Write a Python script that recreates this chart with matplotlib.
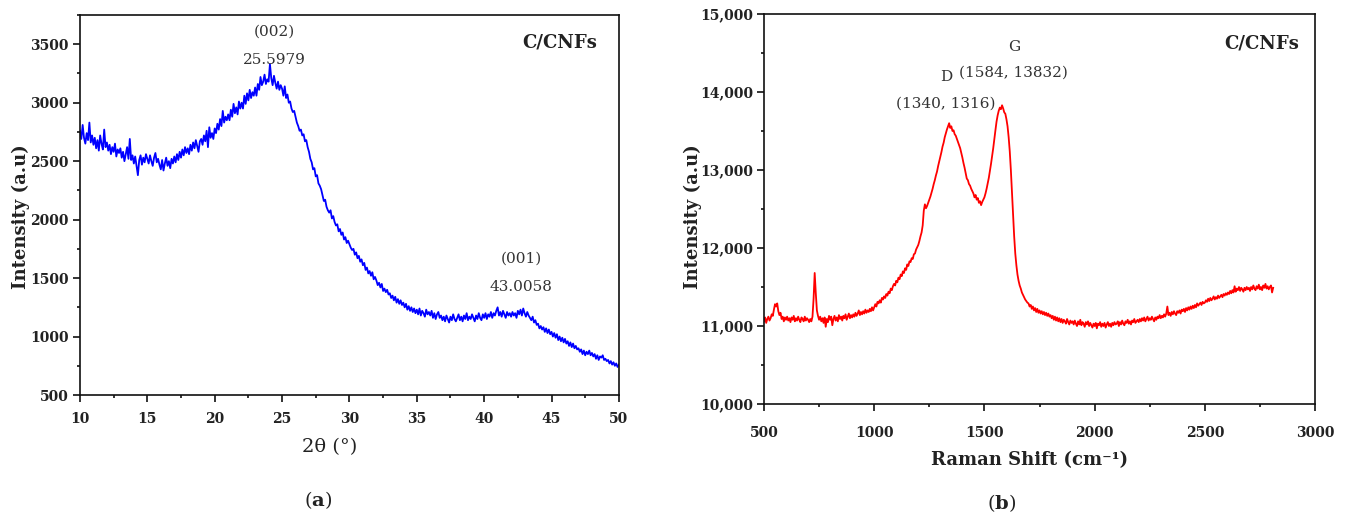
import numpy as np
import matplotlib
matplotlib.use('Agg')
import matplotlib.pyplot as plt
from matplotlib.ticker import MultipleLocator, FuncFormatter

plt.rcParams['font.family'] = 'DejaVu Serif'
plt.rcParams['mathtext.fontset'] = 'custom'
plt.rcParams['mathtext.rm'] = 'DejaVu Serif'
plt.rcParams['mathtext.bf'] = 'DejaVu Serif:bold'

# XRD pattern, 2theta = 10..50 deg in 0.1 deg steps (one row per degree)
xrd_intensity = [
    2760, 2690, 2810, 2700, 2650, 2740, 2680, 2830, 2660, 2720,
    2640, 2700, 2610, 2680, 2590, 2720, 2650, 2600, 2770, 2620,
    2660, 2590, 2640, 2560, 2620, 2580, 2650, 2540, 2600, 2570,
    2610, 2530, 2580, 2500, 2560, 2620, 2520, 2690, 2510, 2550,
    2480, 2540, 2460, 2380, 2510, 2550, 2470, 2530, 2490, 2560,
    2520, 2480, 2550, 2500, 2460, 2530, 2570, 2490, 2520, 2470,
    2430, 2510, 2420, 2480, 2530, 2460, 2500, 2440, 2520, 2480,
    2540, 2490, 2560, 2510, 2580, 2530, 2600, 2550, 2620, 2570,
    2610, 2560, 2640, 2590, 2660, 2610, 2680, 2630, 2580, 2670,
    2690, 2640, 2720, 2670, 2760, 2620, 2790, 2700, 2740, 2690,
    2780, 2740, 2820, 2770, 2860, 2800, 2930, 2830, 2880, 2850,
    2900, 2850, 2940, 2880, 2990, 2910, 2960, 2900, 3010, 2950,
    3000, 2950, 3060, 2990, 3080, 3020, 3110, 3040, 3090, 3060,
    3130, 3060, 3160, 3110, 3220, 3150, 3180, 3240, 3160, 3200,
    3180, 3330, 3210, 3150, 3230, 3170, 3120, 3180, 3110, 3150,
    3120, 3060, 3140, 3040, 3070, 3000, 3010, 2950, 2920, 2930,
    2880, 2830, 2800, 2760, 2770, 2720, 2730, 2670, 2680, 2620,
    2580, 2520, 2490, 2430, 2440, 2370, 2380, 2310, 2290, 2260,
    2210, 2160, 2170, 2110, 2080, 2060, 2080, 2010, 2030, 1980,
    1950, 1960, 1900, 1920, 1870, 1890, 1830, 1850, 1800, 1820,
    1790, 1760, 1740, 1750, 1700, 1720, 1670, 1690, 1640, 1660,
    1610, 1630, 1570, 1590, 1540, 1560, 1520, 1550, 1490, 1510,
    1480, 1440, 1460, 1420, 1450, 1390, 1410, 1380, 1400, 1360,
    1370, 1330, 1350, 1310, 1340, 1290, 1320, 1280, 1310, 1270,
    1290, 1250, 1280, 1230, 1260, 1220, 1250, 1210, 1240, 1200,
    1230, 1190, 1240, 1180, 1220, 1200, 1170, 1230, 1190, 1210,
    1180, 1220, 1160, 1200, 1150, 1190, 1210, 1160, 1180, 1140,
    1170, 1130, 1180, 1150, 1120, 1170, 1140, 1190, 1150, 1130,
    1160, 1190, 1140, 1170, 1130, 1180, 1150, 1200, 1140, 1170,
    1150, 1190, 1160, 1130, 1180, 1150, 1200, 1160, 1140, 1190,
    1160, 1200, 1150, 1190, 1170, 1210, 1160, 1200, 1180, 1220,
    1250, 1180, 1210, 1170, 1220, 1190, 1160, 1210, 1180, 1200,
    1170, 1210, 1180, 1200, 1160, 1220, 1190, 1230, 1180, 1240,
    1200, 1170, 1210, 1180, 1160, 1140, 1170, 1120, 1140, 1100,
    1110, 1070, 1090, 1060, 1080, 1040, 1070, 1030, 1060, 1020,
    1040, 1000, 1030, 990, 1020, 970, 1000, 960, 990, 950,
    980, 940, 960, 920, 950, 910, 940, 900, 920, 890,
    900, 870, 890, 850, 880, 840, 870, 850, 880, 840,
    860, 830, 850, 810, 840, 800, 830, 820, 840, 800,
    810, 790, 800, 770, 790, 760, 780, 750, 770, 740,
    760,
]
two_theta = np.linspace(10, 50, len(xrd_intensity))

# Raman spectrum, 500..2810 cm-1 in 5 cm-1 steps (one row per 100 cm-1)
raman_intensity = [
    11060, 11110, 11040, 11090, 11120, 11070, 11100, 11150, 11130, 11210, 11280, 11250, 11290, 11190, 11140, 11170, 11090, 11120, 11060, 11110,
    11080, 11120, 11070, 11100, 11050, 11110, 11080, 11130, 11060, 11100, 11070, 11120, 11080, 11050, 11110, 11090, 11060, 11120, 11070, 11100,
    11080, 11050, 11090, 11060, 11120, 11350, 11680, 11420, 11200, 11130, 11080, 11120, 11060, 11100, 11040, 11110, 10990, 11090, 11050, 11130,
    11080, 11120, 11010, 11090, 11130, 11070, 11110, 11060, 11140, 11090, 11120, 11070, 11130, 11100, 11150, 11080, 11120, 11160, 11100, 11140,
    11110, 11150, 11120, 11170, 11130, 11160, 11200, 11140, 11180, 11150, 11190, 11160, 11210, 11170, 11200, 11180, 11220, 11190, 11240, 11200,
    11240, 11280, 11250, 11310, 11290, 11330, 11300, 11360, 11340, 11380, 11360, 11410, 11390, 11440, 11420, 11480, 11460, 11510, 11540, 11520,
    11580, 11560, 11620, 11600, 11660, 11640, 11700, 11680, 11740, 11720, 11790, 11770, 11830, 11820, 11870, 11860, 11920, 11930, 11980, 12010,
    12040, 12090, 12150, 12200, 12290, 12480, 12560, 12510, 12540, 12580, 12620, 12660, 12710, 12760, 12820, 12870, 12930, 12980, 13050, 13110,
    13170, 13230, 13300, 13350, 13420, 13470, 13520, 13560, 13600, 13540, 13560, 13500, 13510, 13460, 13440, 13400, 13360, 13320, 13280, 13220,
    13160, 13090, 13030, 12960, 12890, 12870, 12820, 12800, 12760, 12730, 12700, 12650, 12680, 12620, 12640, 12580, 12600, 12550, 12590, 12620,
    12650, 12700, 12760, 12830, 12900, 12990, 13080, 13180, 13280, 13400, 13510, 13620, 13700, 13760, 13800, 13780, 13830, 13790, 13740, 13720,
    13650, 13560, 13420, 13240, 13000, 12720, 12420, 12150, 11930, 11780, 11660, 11580, 11520, 11480, 11430, 11400, 11370, 11340, 11320, 11300,
    11290, 11250, 11270, 11220, 11250, 11200, 11230, 11180, 11220, 11170, 11200, 11160, 11190, 11150, 11180, 11140, 11170, 11130, 11160, 11120,
    11140, 11100, 11130, 11080, 11120, 11070, 11110, 11060, 11100, 11050, 11090, 11040, 11080, 11060, 11030, 11090, 11050, 11020, 11070, 11040,
    11060, 11020, 11070, 11030, 11000, 11060, 11020, 11080, 11010, 11050, 11030, 10990, 11050, 11020, 11060, 11000, 11040, 11010, 10980, 11030,
    11000, 11040, 10970, 11030, 11010, 11050, 10990, 11030, 11000, 11040, 10980, 11020, 11050, 11000, 11030, 10990, 11040, 11010, 11050, 11020,
    11030, 11060, 11000, 11050, 11020, 11070, 11030, 11010, 11060, 11040, 11080, 11030, 11060, 11020, 11070, 11050, 11090, 11040, 11060, 11080,
    11050, 11090, 11060, 11100, 11070, 11110, 11060, 11090, 11120, 11070, 11100, 11080, 11120, 11090, 11060, 11110, 11080, 11120, 11100, 11140,
    11100, 11130, 11110, 11150, 11120, 11160, 11250, 11140, 11170, 11130, 11180, 11150, 11190, 11160, 11140, 11190, 11170, 11200, 11160, 11210,
    11190, 11220, 11180, 11230, 11200, 11240, 11210, 11250, 11220, 11260, 11230, 11270, 11240, 11290, 11260, 11280, 11300, 11270, 11310, 11290,
    11300, 11330, 11310, 11350, 11320, 11360, 11330, 11350, 11380, 11340, 11370, 11350, 11390, 11360, 11380, 11400, 11370, 11410, 11390, 11420,
    11400, 11430, 11410, 11450, 11420, 11460, 11430, 11510, 11440, 11480, 11460, 11500, 11450, 11490, 11470, 11440, 11490, 11460, 11500, 11470,
    11490, 11450, 11500, 11470, 11520, 11480, 11460, 11510, 11480, 11530, 11470, 11500, 11460, 11520, 11490, 11540, 11480, 11510, 11470, 11500,
    11520, 11430, 11490,
]
raman_shift = np.arange(len(raman_intensity)) * 5 + 500

TEXT = '#222222'
NOTE = '#333333'


def style_axes(ax, xpad, ypad):
    for sp in ax.spines.values():
        sp.set_linewidth(1.2)
        sp.set_color('#111111')
    ax.tick_params(which='both', direction='out', top=False, right=False,
                   width=1.2, colors='#111111', labelcolor=TEXT)
    ax.tick_params(which='major', length=5)
    ax.tick_params(which='minor', length=2.5)
    ax.tick_params(axis='x', pad=xpad)
    ax.tick_params(axis='y', pad=ypad)
    for lab in ax.get_xticklabels() + ax.get_yticklabels():
        lab.set_fontweight('bold')
        lab.set_fontsize(10)


fig = plt.figure(figsize=(13.46, 5.23), dpi=100)

# (a) XRD
ax1 = fig.add_axes([0.0594, 0.2447, 0.4004, 0.7266])
ax1.plot(two_theta, xrd_intensity, color='#0000ff', lw=1.3)
ax1.set_xlim(10, 50)
ax1.set_ylim(500, 3750)
ax1.xaxis.set_major_locator(MultipleLocator(5))
ax1.xaxis.set_minor_locator(MultipleLocator(2.5))
ax1.yaxis.set_major_locator(MultipleLocator(500))
ax1.yaxis.set_minor_locator(MultipleLocator(250))
style_axes(ax1, 7, 3)
ax1.set_ylabel('Intensity (a.u)', fontsize=13, fontweight='bold', color=TEXT)
ax1.yaxis.set_label_coords(-0.092, 0.47)
ax1.set_xlabel('2θ (°)', fontsize=14, color=TEXT)
ax1.xaxis.set_label_coords(0.464, -0.113)

ax1.text(24.4, 3605, '(002)', ha='center', va='center', fontsize=11, color=NOTE)
ax1.text(24.4, 3365, '25.5979', ha='center', va='center', fontsize=11, color=NOTE)
ax1.text(42.75, 1663, '(001)', ha='center', va='center', fontsize=11, color=NOTE)
ax1.text(42.75, 1424, '43.0058', ha='center', va='center', fontsize=11, color=NOTE)
ax1.text(45.6, 3519, 'C/CNFs', ha='center', va='center', fontsize=13,
         fontweight='bold', color=TEXT)

# (b) Raman
ax2 = fig.add_axes([0.5676, 0.2275, 0.4094, 0.7457])
ax2.plot(raman_shift, raman_intensity, color='#ff0000', lw=1.3)
ax2.set_xlim(500, 3000)
ax2.set_ylim(10000, 15000)
ax2.xaxis.set_major_locator(MultipleLocator(500))
ax2.xaxis.set_minor_locator(MultipleLocator(250))
ax2.yaxis.set_major_locator(MultipleLocator(1000))
ax2.yaxis.set_minor_locator(MultipleLocator(500))
ax2.yaxis.set_major_formatter(FuncFormatter(lambda v, p: f'{int(v):,}'))
style_axes(ax2, 11, 3)
ax2.set_ylabel('Intensity (a.u)', fontsize=13, fontweight='bold', color=TEXT)
ax2.yaxis.set_label_coords(-0.112, 0.48)
ax2.set_xlabel('Raman Shift (cm⁻¹)', fontsize=13, fontweight='bold', color=TEXT)
ax2.xaxis.set_label_coords(0.482, -0.12)

ax2.text(1634, 14580, 'G', ha='center', va='center', fontsize=11, color=NOTE)
ax2.text(1632, 14247, '(1584, 13832)', ha='center', va='center', fontsize=11, color=NOTE)
ax2.text(1325, 14196, 'D', ha='center', va='center', fontsize=11, color=NOTE)
ax2.text(1325, 13850, '(1340, 1316)', ha='center', va='center', fontsize=11, color=NOTE)
ax2.text(2756, 14619, 'C/CNFs', ha='center', va='center', fontsize=13,
         fontweight='bold', color=TEXT)

fig.text(318 / 1346, 1 - 500 / 523, r'($\mathbf{a}$)', ha='center', va='center',
         fontsize=14, color=TEXT)
fig.text(1002 / 1346, 1 - 503 / 523, r'($\mathbf{b}$)', ha='center', va='center',
         fontsize=14, color=TEXT)

fig.savefig('out.png', dpi=100, facecolor='white')
